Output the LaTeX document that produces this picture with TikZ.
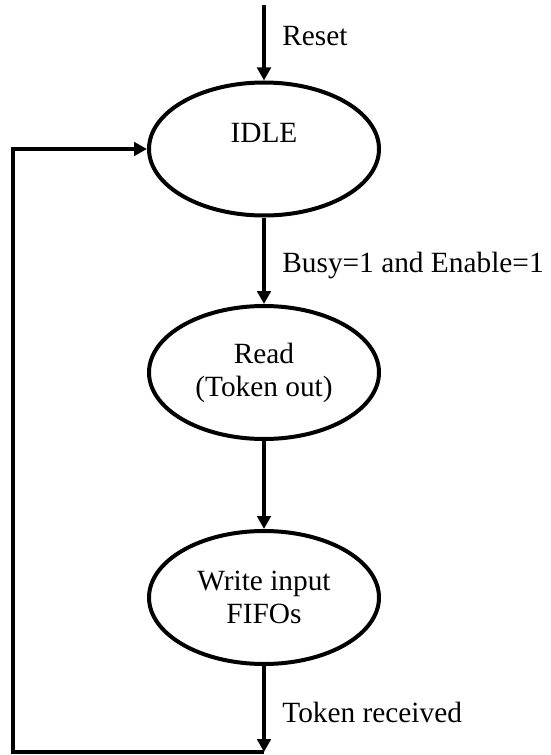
\documentclass[tikz,border=0pt]{standalone}
\usepackage{fontspec}
\setmainfont{Liberation Serif}
\usetikzlibrary{shapes.geometric,arrows.meta}

\begin{document}
\begin{tikzpicture}
[
state/.style={
% The shape:
ellipse,
% The size:
minimum width=4.6cm,
minimum height=2.66cm,
inner sep=0pt,
% The border:
line width=0.08cm,
draw=black,
% The text:
align=center,
font=\fontsize{16.7}{18.8}\selectfont
},
flow/.style={
% a thick line with a small filled head
-{Triangle[width=0.27cm,length=0.26cm]},
line width=0.08cm
},
cond/.style={
% transition labels, to the right of the arrows
anchor=west,
inner sep=0pt,
font=\fontsize{16.7}{18.8}\selectfont
}
]
    \useasboundingbox (0,0) rectangle (11,-15.1);
    \node[state] (idle) at (5.28, -2.98) {IDLE\\ ~};
    \node[state] (read) at (5.28, -7.45) {Read\\(Token out)};
    \node[state] (write) at (5.28, -11.95) {Write input\\FIFOs};
    \coordinate (start) at (5.28, -0.1);
    \coordinate (stop) at (5.28, -15.04);
    \coordinate (back) at (0.26, -15.04);
    \node[cond] (reset) at (5.64, -0.72) {Reset};
    \node[cond] (busy) at (5.64, -5.3) {Busy=1 and Enable=1};
    \node[cond] (token) at (5.64, -14.24) {Token received};
    \draw[flow] (start) -- (idle.north);
    \draw[flow] (idle.south) -- (read.north);
    \draw[flow] (read.south) -- (write.north);
    \draw[flow] (write.south) -- (stop);
    \draw[flow] (stop) -- (back) |- (idle.west);
\end{tikzpicture}
\end{document}
